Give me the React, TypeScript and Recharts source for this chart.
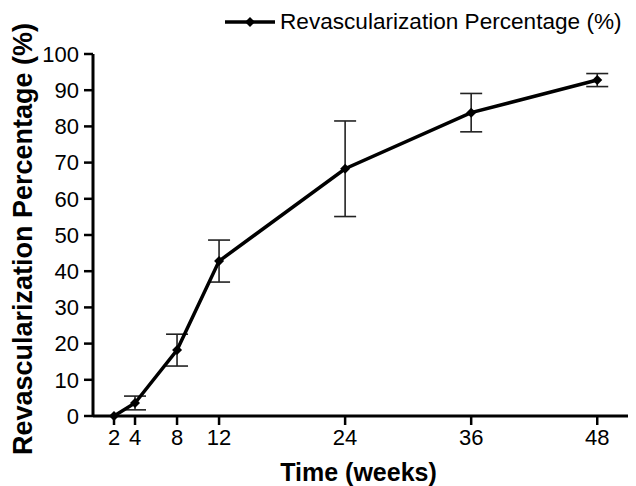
import { LineChart, Line, XAxis, YAxis, ErrorBar, Legend } from "recharts";

const FONT = '"Liberation Sans", Arial, sans-serif';

// weeks after treatment, mean revascularization % and its SD
const weeks = [2, 4, 8, 12, 24, 36, 48];
const revascMean = [0, 3.6, 18.2, 42.8, 68.3, 83.8, 92.8];
const revascSd = [0, 1.9, 4.4, 5.8, 13.2, 5.3, 1.8];

const xTicks = [2, 4, 8, 12, 24, 36, 48];
const yTicks = [0, 10, 20, 30, 40, 50, 60, 70, 80, 90, 100];

const seriesName = "Revascularization Percentage (%)";
const xTitle = "Time (weeks)";
const yTitle = "Revascularization Percentage (%)";

const data = weeks.map((w, i) => ({ week: w, mean: revascMean[i], sd: revascSd[i] }));

function Diamond({ cx, cy, r = 5 }: { cx?: number; cy?: number; r?: number }) {
  if (cx == null || cy == null) return null;
  return (
    <polygon
      points={`${cx},${cy - r} ${cx + r},${cy} ${cx},${cy + r} ${cx - r},${cy}`}
      fill="#000"
    />
  );
}

function XTitle(props: any) {
  const vb = props.viewBox || { x: 85, y: 408, width: 543, height: 70 };
  return (
    <text
      x={vb.x + vb.width / 2 - 5}
      y={vb.y + 56}
      textAnchor="middle"
      dominantBaseline="central"
      fontFamily={FONT}
      fontWeight="bold"
      fontSize={25}
      fill="#000"
    >
      {xTitle}
    </text>
  );
}

function YTitle(props: any) {
  const vb = props.viewBox || { x: 0, y: 46, width: 85, height: 362 };
  const cx = vb.x + 15;
  const cy = vb.y + vb.height / 2 + 4;
  return (
    <text
      x={cx}
      y={cy}
      transform={`rotate(-90 ${cx} ${cy})`}
      textAnchor="middle"
      dominantBaseline="central"
      fontFamily={FONT}
      fontWeight="bold"
      fontSize={27}
      fill="#000"
    >
      {yTitle}
    </text>
  );
}

function LegendBox(props: any) {
  const label = props.payload?.[0]?.value ?? seriesName;
  return (
    <div
      style={{
        position: "absolute",
        left: 217,
        top: 1,
        display: "flex",
        alignItems: "center",
        whiteSpace: "nowrap",
        fontFamily: FONT,
        fontSize: 22.6,
        color: "#000",
        lineHeight: "26px",
      }}
    >
      <svg width={50} height={12} style={{ display: "block" }}>
        <line x1={0} y1={6} x2={50} y2={6} stroke="#000" strokeWidth={3.5} />
        <Diamond cx={25} cy={6} r={5} />
      </svg>
      <span style={{ marginLeft: 5 }}>{label}</span>
    </div>
  );
}

export default function App() {
  return (
    <div style={{ width: 628, height: 478 }}>
      <LineChart
        width={628}
        height={478}
        data={data}
        margin={{ top: 46, right: 2, bottom: 0, left: 0 }}
      >
        <XAxis
          dataKey="week"
          type="number"
          domain={[0, 51.5]}
          ticks={xTicks}
          interval={0}
          height={70}
          tickSize={9}
          tickMargin={4}
          axisLine={{ stroke: "#000", strokeWidth: 3 }}
          tickLine={{ stroke: "#000", strokeWidth: 2.5 }}
          tick={{ fill: "#000", fontSize: 22, fontFamily: FONT }}
          label={<XTitle />}
        />
        <YAxis
          type="number"
          domain={[0, 100]}
          ticks={yTicks}
          interval={0}
          width={85}
          tickSize={9}
          tickMargin={5}
          axisLine={{ stroke: "#000", strokeWidth: 3 }}
          tickLine={{ stroke: "#000", strokeWidth: 2.5 }}
          tick={{ fill: "#000", fontSize: 22, fontFamily: FONT }}
          label={<YTitle />}
        />
        <Legend
          verticalAlign="top"
          align="left"
          wrapperStyle={{ top: 0, left: 0, width: 0, height: 0 }}
          content={<LegendBox />}
        />
        <Line
          type="linear"
          dataKey="mean"
          name={seriesName}
          stroke="#000"
          strokeWidth={3.5}
          isAnimationActive={false}
          dot={(p: any) => <Diamond key={`d-${p.index}`} cx={p.cx} cy={p.cy} r={5} />}
          activeDot={false}
        >
          <ErrorBar
            dataKey="sd"
            direction="y"
            width={11}
            stroke="#222"
            strokeWidth={1.6}
            isAnimationActive={false}
          />
        </Line>
      </LineChart>
    </div>
  );
}
